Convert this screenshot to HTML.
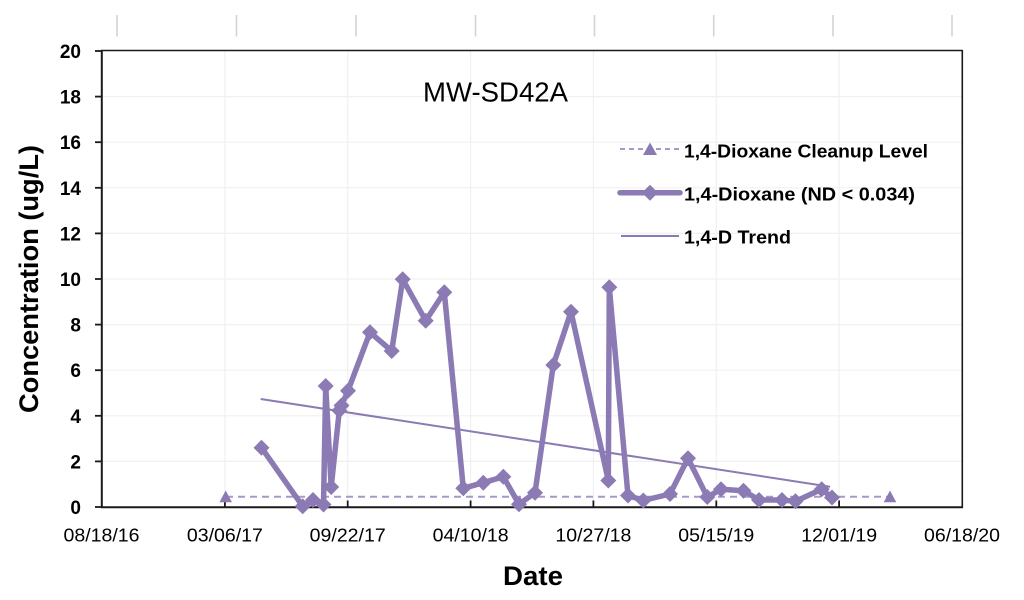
<!DOCTYPE html>
<html>
<head>
<meta charset="utf-8">
<style>
  html, body { margin: 0; padding: 0; background: #ffffff; }
  svg { display: block; }
  text { font-family: "Liberation Sans", Arial, sans-serif; fill: #000; }
</style>
</head>
<body>
<svg width="1024" height="600" viewBox="0 0 1024 600" xmlns="http://www.w3.org/2000/svg">
  <defs>
    <path id="dm" d="M0,-8 L8,0 L0,8 L-8,0 Z" fill="#8b7ab3"/>
  </defs>
  <rect x="0" y="0" width="1024" height="600" fill="#ffffff"/>

  <!-- faint top tick marks -->
  <g stroke="#d4d4d4" stroke-width="1.6">
    <line x1="117" y1="15" x2="117" y2="36.5"/>
    <line x1="236.5" y1="15" x2="236.5" y2="36.5"/>
    <line x1="356" y1="15" x2="356" y2="36.5"/>
    <line x1="475.5" y1="15" x2="475.5" y2="36.5"/>
    <line x1="594.5" y1="15" x2="594.5" y2="36.5"/>
    <line x1="713.7" y1="15" x2="713.7" y2="36.5"/>
    <line x1="833" y1="15" x2="833" y2="36.5"/>
    <line x1="952" y1="15" x2="952" y2="36.5"/>
  </g>

  <!-- gridlines -->
  <g stroke="#f0f0f0" stroke-width="1.2">
    <line x1="102" y1="96.6" x2="962" y2="96.6"/>
    <line x1="102" y1="142.2" x2="962" y2="142.2"/>
    <line x1="102" y1="187.8" x2="962" y2="187.8"/>
    <line x1="102" y1="233.4" x2="962" y2="233.4"/>
    <line x1="102" y1="279" x2="962" y2="279"/>
    <line x1="102" y1="324.6" x2="962" y2="324.6"/>
    <line x1="102" y1="370.2" x2="962" y2="370.2"/>
    <line x1="102" y1="415.8" x2="962" y2="415.8"/>
    <line x1="102" y1="461.4" x2="962" y2="461.4"/>
    <line x1="224.9" y1="51" x2="224.9" y2="507"/>
    <line x1="347.7" y1="51" x2="347.7" y2="507"/>
    <line x1="470.6" y1="51" x2="470.6" y2="507"/>
    <line x1="593.4" y1="51" x2="593.4" y2="507"/>
    <line x1="716.3" y1="51" x2="716.3" y2="507"/>
    <line x1="839.1" y1="51" x2="839.1" y2="507"/>
  </g>

  <!-- plot border -->
  <line x1="101" y1="50.5" x2="962.5" y2="50.5" stroke="#1a1a1a" stroke-width="1.6"/>
  <line x1="962.3" y1="50" x2="962.3" y2="508" stroke="#1a1a1a" stroke-width="1.6"/>
  <line x1="101.8" y1="50" x2="101.8" y2="508" stroke="#1a1a1a" stroke-width="2"/>
  <line x1="101" y1="507.3" x2="963" y2="507.3" stroke="#1a1a1a" stroke-width="2"/>

  <!-- y ticks -->
  <g stroke="#1a1a1a" stroke-width="1.8">
    <line x1="95" y1="51" x2="102" y2="51"/>
    <line x1="95" y1="96.6" x2="102" y2="96.6"/>
    <line x1="95" y1="142.2" x2="102" y2="142.2"/>
    <line x1="95" y1="187.8" x2="102" y2="187.8"/>
    <line x1="95" y1="233.4" x2="102" y2="233.4"/>
    <line x1="95" y1="279" x2="102" y2="279"/>
    <line x1="95" y1="324.6" x2="102" y2="324.6"/>
    <line x1="95" y1="370.2" x2="102" y2="370.2"/>
    <line x1="95" y1="415.8" x2="102" y2="415.8"/>
    <line x1="95" y1="461.4" x2="102" y2="461.4"/>
    <line x1="95" y1="507" x2="102" y2="507"/>
    <!-- x ticks (inward) -->
    <line x1="224.9" y1="500.5" x2="224.9" y2="507"/>
    <line x1="347.7" y1="500.5" x2="347.7" y2="507"/>
    <line x1="470.6" y1="500.5" x2="470.6" y2="507"/>
    <line x1="593.4" y1="500.5" x2="593.4" y2="507"/>
    <line x1="716.3" y1="500.5" x2="716.3" y2="507"/>
    <line x1="839.1" y1="500.5" x2="839.1" y2="507"/>
  </g>

  <!-- y tick labels -->
  <g font-size="19" font-weight="bold" text-anchor="end">
    <text x="81" y="58">20</text>
    <text x="81" y="103.6">18</text>
    <text x="81" y="149.2">16</text>
    <text x="81" y="194.8">14</text>
    <text x="81" y="240.4">12</text>
    <text x="81" y="286">10</text>
    <text x="81" y="331.6">8</text>
    <text x="81" y="377.2">6</text>
    <text x="81" y="422.8">4</text>
    <text x="81" y="468.4">2</text>
    <text x="81" y="514">0</text>
  </g>

  <!-- x tick labels -->
  <g font-size="18" text-anchor="middle">
    <text x="101.5" y="541.5" textLength="76" lengthAdjust="spacingAndGlyphs">08/18/16</text>
    <text x="224.9" y="541.5" textLength="76" lengthAdjust="spacingAndGlyphs">03/06/17</text>
    <text x="347.7" y="541.5" textLength="76" lengthAdjust="spacingAndGlyphs">09/22/17</text>
    <text x="470.6" y="541.5" textLength="76" lengthAdjust="spacingAndGlyphs">04/10/18</text>
    <text x="593.4" y="541.5" textLength="76" lengthAdjust="spacingAndGlyphs">10/27/18</text>
    <text x="716.3" y="541.5" textLength="76" lengthAdjust="spacingAndGlyphs">05/15/19</text>
    <text x="839.1" y="541.5" textLength="76" lengthAdjust="spacingAndGlyphs">12/01/19</text>
    <text x="962" y="541.5" textLength="76" lengthAdjust="spacingAndGlyphs">06/18/20</text>
  </g>

  <!-- axis titles -->
  <text x="533" y="585" font-size="27" font-weight="bold" text-anchor="middle" textLength="60" lengthAdjust="spacingAndGlyphs">Date</text>
  <text transform="translate(38,279) rotate(-90)" x="0" y="0" font-size="27" font-weight="bold" text-anchor="middle" textLength="268" lengthAdjust="spacingAndGlyphs">Concentration (ug/L)</text>

  <!-- chart title -->
  <text x="423" y="101.5" font-size="28" textLength="145" lengthAdjust="spacingAndGlyphs">MW-SD42A</text>

  <!-- cleanup level dashed line -->
  <line x1="226" y1="496.7" x2="890" y2="496.7" stroke="#a898c8" stroke-width="2" stroke-dasharray="7,5"/>
  <polygon points="225.7,490.5 232,502.2 219.4,502.2" fill="#8b7ab3"/>
  <polygon points="890,490.5 896.3,502.2 883.7,502.2" fill="#8b7ab3"/>

  <!-- trend line -->
  <line x1="260.7" y1="399" x2="830" y2="486.7" stroke="#8b7ab3" stroke-width="2"/>

  <!-- main series -->
  <polyline fill="none" stroke="#8b7ab3" stroke-width="5.5" stroke-linejoin="round" stroke-linecap="round"
    points="261.5,447.7 302.7,506.3 313,500 323.5,504.5 325.7,386 331.2,487 339.3,410.5 341.5,405.5 348,390.7 370,332.3 391.7,351 402.7,279.3 425.7,320.7 444.3,292.3 463.3,488.3 483.3,482.7 503.3,476.7 519,504.3 535,492.7 553.3,365 571,311.7 608.3,480.5 609.3,287.3 628,495.5 643.3,500.5 670,494 688,458.3 707.3,497 721,489.3 743.5,490.7 759,500 782,500 795.5,501.3 821.7,489.3 832,497.5"/>

  <g>
    <use href="#dm" x="261.5" y="447.7"/>
    <use href="#dm" x="302.7" y="506.3"/>
    <use href="#dm" x="313" y="500"/>
    <use href="#dm" x="323.5" y="504.5"/>
    <use href="#dm" x="325.7" y="386"/>
    <use href="#dm" x="331.2" y="487"/>
    <use href="#dm" x="339.3" y="410.5"/>
    <use href="#dm" x="341.5" y="405.5"/>
    <use href="#dm" x="348" y="390.7"/>
    <use href="#dm" x="370" y="332.3"/>
    <use href="#dm" x="391.7" y="351"/>
    <use href="#dm" x="402.7" y="279.3"/>
    <use href="#dm" x="425.7" y="320.7"/>
    <use href="#dm" x="444.3" y="292.3"/>
    <use href="#dm" x="463.3" y="488.3"/>
    <use href="#dm" x="483.3" y="482.7"/>
    <use href="#dm" x="503.3" y="476.7"/>
    <use href="#dm" x="519" y="504.3"/>
    <use href="#dm" x="535" y="492.7"/>
    <use href="#dm" x="553.3" y="365"/>
    <use href="#dm" x="571" y="311.7"/>
    <use href="#dm" x="608.3" y="480.5"/>
    <use href="#dm" x="609.3" y="287.3"/>
    <use href="#dm" x="628" y="495.5"/>
    <use href="#dm" x="643.3" y="500.5"/>
    <use href="#dm" x="670" y="494"/>
    <use href="#dm" x="688" y="458.3"/>
    <use href="#dm" x="707.3" y="497"/>
    <use href="#dm" x="721" y="489.3"/>
    <use href="#dm" x="743.5" y="490.7"/>
    <use href="#dm" x="759" y="500"/>
    <use href="#dm" x="782" y="500"/>
    <use href="#dm" x="795.5" y="501.3"/>
    <use href="#dm" x="821.7" y="489.3"/>
    <use href="#dm" x="832" y="497.5"/>
  </g>

  <!-- legend -->
  <line x1="620" y1="149" x2="680" y2="149" stroke="#a898c8" stroke-width="2" stroke-dasharray="5,4"/>
  <polygon points="650,142.5 657,155 643,155" fill="#8b7ab3"/>
  <line x1="620" y1="192.7" x2="680" y2="192.7" stroke="#8b7ab3" stroke-width="5.5" stroke-linecap="round"/>
  <use href="#dm" x="650" y="192.7"/>
  <line x1="621" y1="236" x2="679" y2="236" stroke="#8b7ab3" stroke-width="2"/>

  <g font-size="18" font-weight="bold">
    <text x="684" y="157.5" textLength="244" lengthAdjust="spacingAndGlyphs">1,4-Dioxane Cleanup Level</text>
    <text x="684" y="200.5" textLength="231" lengthAdjust="spacingAndGlyphs">1,4-Dioxane (ND &lt; 0.034)</text>
    <text x="684" y="243.5" textLength="107" lengthAdjust="spacingAndGlyphs">1,4-D Trend</text>
  </g>
</svg>
</body>
</html>
